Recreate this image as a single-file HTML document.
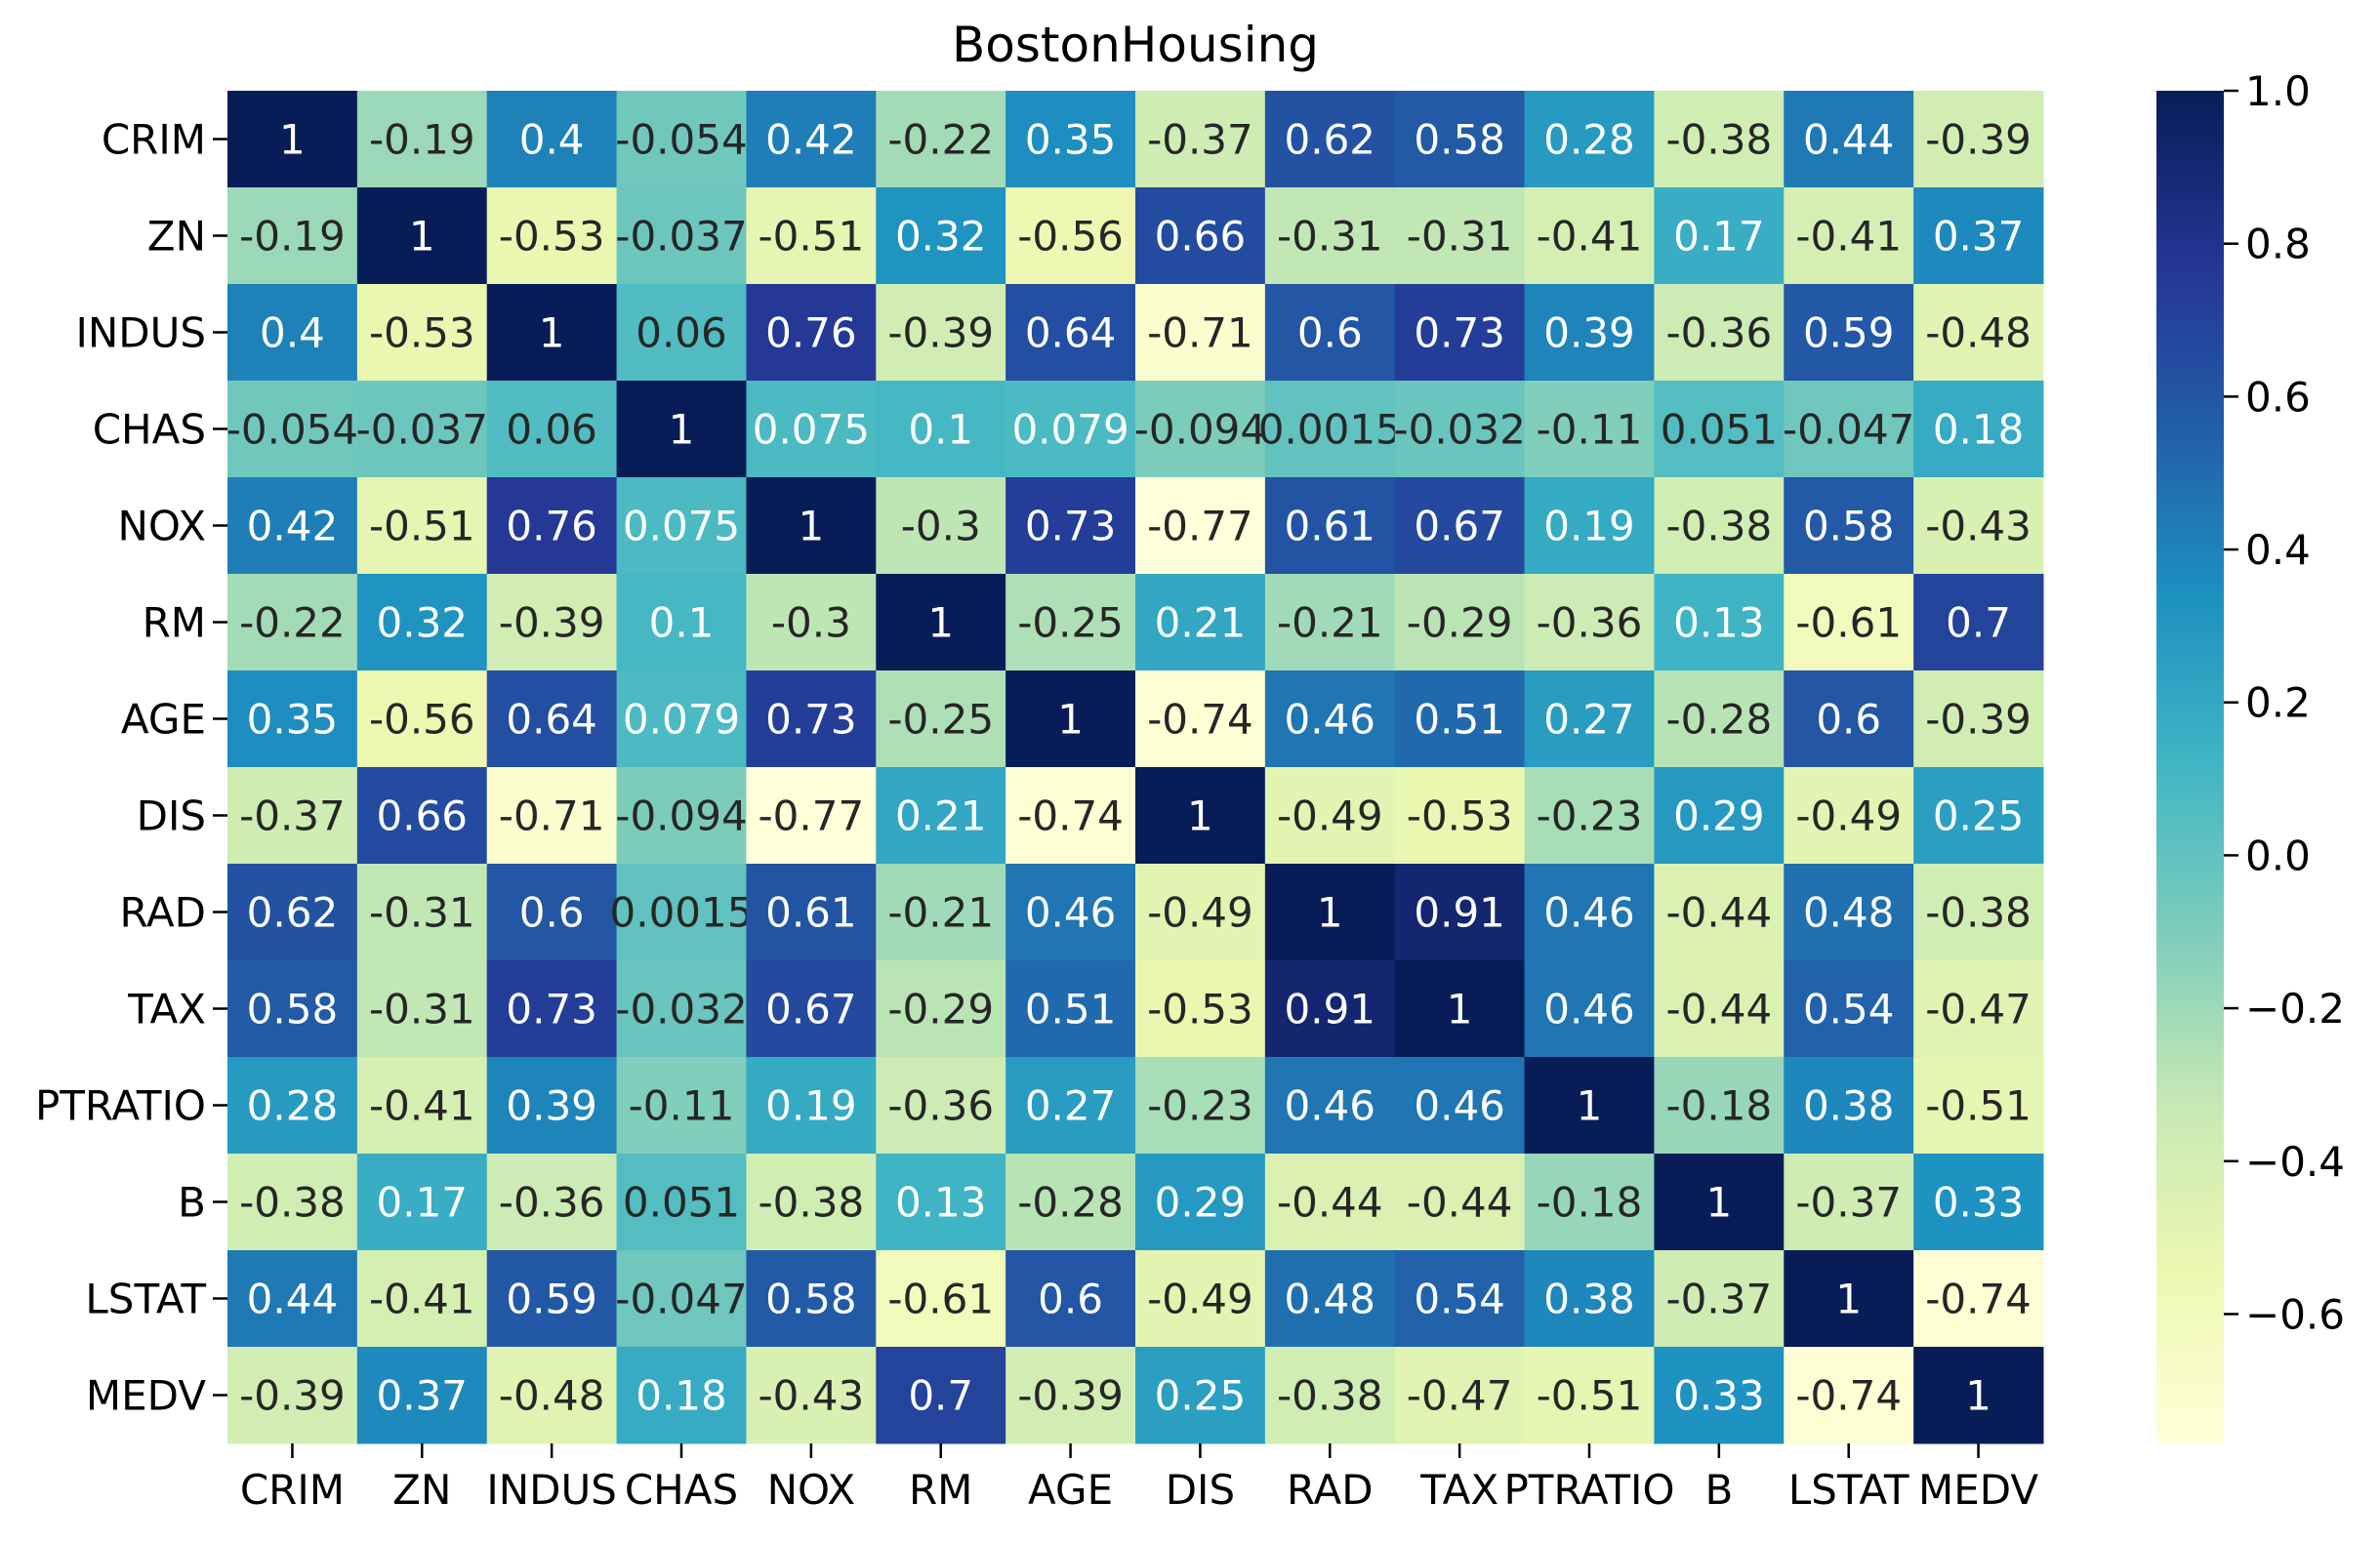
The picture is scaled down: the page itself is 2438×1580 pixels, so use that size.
<!DOCTYPE html>
<html><head><meta charset="utf-8"><style>
html,body{margin:0;padding:0;background:#fff;}
svg{display:block;font-family:"DejaVu Sans","Liberation Sans",sans-serif;}
</style></head><body>
<svg id="chart" width="2438" height="1580" viewBox="0 0 2438 1580">
<text x="1163" y="63" font-size="50" text-anchor="middle" fill="#000">BostonHousing</text>
</svg>
<script>
const labels = ["CRIM","ZN","INDUS","CHAS","NOX","RM","AGE","DIS","RAD","TAX","PTRATIO","B","LSTAT","MEDV"];
const corr = [
[1,-0.19,0.4,-0.054,0.42,-0.22,0.35,-0.37,0.62,0.58,0.28,-0.38,0.44,-0.39],
[-0.19,1,-0.53,-0.037,-0.51,0.32,-0.56,0.66,-0.31,-0.31,-0.41,0.17,-0.41,0.37],
[0.4,-0.53,1,0.06,0.76,-0.39,0.64,-0.71,0.6,0.73,0.39,-0.36,0.59,-0.48],
[-0.054,-0.037,0.06,1,0.075,0.1,0.079,-0.094,0.0015,-0.032,-0.11,0.051,-0.047,0.18],
[0.42,-0.51,0.76,0.075,1,-0.3,0.73,-0.77,0.61,0.67,0.19,-0.38,0.58,-0.43],
[-0.22,0.32,-0.39,0.1,-0.3,1,-0.25,0.21,-0.21,-0.29,-0.36,0.13,-0.61,0.7],
[0.35,-0.56,0.64,0.079,0.73,-0.25,1,-0.74,0.46,0.51,0.27,-0.28,0.6,-0.39],
[-0.37,0.66,-0.71,-0.094,-0.77,0.21,-0.74,1,-0.49,-0.53,-0.23,0.29,-0.49,0.25],
[0.62,-0.31,0.6,0.0015,0.61,-0.21,0.46,-0.49,1,0.91,0.46,-0.44,0.48,-0.38],
[0.58,-0.31,0.73,-0.032,0.67,-0.29,0.51,-0.53,0.91,1,0.46,-0.44,0.54,-0.47],
[0.28,-0.41,0.39,-0.11,0.19,-0.36,0.27,-0.23,0.46,0.46,1,-0.18,0.38,-0.51],
[-0.38,0.17,-0.36,0.051,-0.38,0.13,-0.28,0.29,-0.44,-0.44,-0.18,1,-0.37,0.33],
[0.44,-0.41,0.59,-0.047,0.58,-0.61,0.6,-0.49,0.48,0.54,0.38,-0.37,1,-0.74],
[-0.39,0.37,-0.48,0.18,-0.43,0.7,-0.39,0.25,-0.38,-0.47,-0.51,0.33,-0.74,1]
];
const cbTicks = [1.0,0.8,0.6,0.4,0.2,0.0,-0.2,-0.4,-0.6];
const vmin = -0.7692, vmax = 1;

const NS="http://www.w3.org/2000/svg";
const svg=document.getElementById('chart');
const L=233,T=93,R=2093,B=1479;
const cw=(R-L)/labels.length, ch=(B-T)/labels.length;
const xPos=i=>L+i*cw, yPos=i=>T+i*ch;
const stops=["#ffffd9","#edf8b1","#c7e9b4","#7fcdbb","#41b6c4","#1d91c0","#225ea8","#253494","#081d58"].map(h=>[parseInt(h.substr(1,2),16),parseInt(h.substr(3,2),16),parseInt(h.substr(5,2),16)]);
function cmap(v){let t=(v-vmin)/(vmax-vmin);t=Math.max(0,Math.min(1,t));const p=t*(stops.length-1);const i=Math.min(stops.length-2,Math.floor(p));const f=p-i;return stops[i].map((c,k)=>Math.round(c+(stops[i+1][k]-c)*f));}
function lum(c){const l=c.map(x=>{x/=255;return x<=0.03928?x/12.92:Math.pow((x+0.055)/1.055,2.4)});return 0.2126*l[0]+0.7152*l[1]+0.0722*l[2];}
function el(tag,attrs){const e=document.createElementNS(NS,tag);for(const k in attrs)e.setAttribute(k,attrs[k]);svg.appendChild(e);return e;}

corr.forEach((row,r)=>row.forEach((v,c)=>{
  const col=cmap(v);
  const rect=el('rect',{x:xPos(c),y:yPos(r),width:cw+0.5,height:ch+0.5,fill:`rgb(${col})`});
  
  
  const t=el('text',{x:xPos(c)+cw/2,y:yPos(r)+ch/2+15,'font-size':42,'text-anchor':'middle',fill:lum(col)<0.408?'#ffffff':'#262626'});
  t.textContent=String(v);
  
  
}));
labels.forEach((lab,i)=>{
  const yt=el('line',{x1:L-15,x2:L,y1:yPos(i)+ch/2,y2:yPos(i)+ch/2,stroke:'#000','stroke-width':2.5});
  
  
  const yl=el('text',{x:L-22,y:yPos(i)+ch/2+15,'font-size':42,'text-anchor':'end',fill:'#000'});
  yl.textContent=lab;
  
  
  const xt=el('line',{x1:xPos(i)+cw/2,x2:xPos(i)+cw/2,y1:B,y2:B+15,stroke:'#000','stroke-width':2.5});
  
  
  const xl=el('text',{x:xPos(i)+cw/2,y:B+62,'font-size':42,'text-anchor':'middle',fill:'#000'});
  xl.textContent=lab;
  
  
});
// colorbar
const CX=2209,CW=69;
const defs=el('defs',{});
const grad=document.createElementNS(NS,'linearGradient');
grad.setAttribute('id','cbg');grad.setAttribute('x1','0');grad.setAttribute('y1','1');grad.setAttribute('x2','0');grad.setAttribute('y2','0');
stops.forEach((s,i)=>{const st=document.createElementNS(NS,'stop');st.setAttribute('offset',i/(stops.length-1));st.setAttribute('stop-color',`rgb(${s})`);grad.appendChild(st);});
defs.appendChild(grad);
const cb=el('rect',{x:CX,y:T,width:CW,height:B-T,fill:'url(#cbg)'});


const cy=v=>B-(v-vmin)/(vmax-vmin)*(B-T);
cbTicks.forEach(v=>{
  const tk=el('line',{x1:CX+CW,x2:CX+CW+15,y1:cy(v),y2:cy(v),stroke:'#000','stroke-width':2.5});
  
  
  const tl=el('text',{x:CX+CW+22,y:cy(v)+15,'font-size':42,fill:'#000'});
  tl.textContent=v.toFixed(1).replace('-','\u2212');
  
  
});
</script>
</body></html>
